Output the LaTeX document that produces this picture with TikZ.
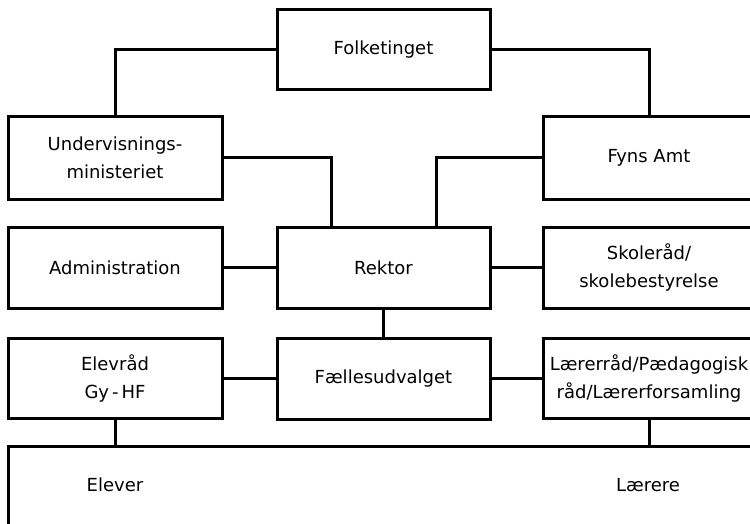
\documentclass[tikz,border=0pt]{standalone}
\usepackage{fontspec}
\setmainfont{DejaVu Sans}
\begin{document}
\begin{tikzpicture}[x=1pt,y=-1pt,
  box/.style={draw,line width=3pt,inner sep=0pt,align=center,
    font=\fontsize{18}{28}\selectfont},
  lbl/.style={inner sep=0pt,font=\fontsize{18}{28}\selectfont},
  conn/.style={line width=3pt}]
\useasboundingbox (0,0) rectangle (750,524);
\clip (0,0) rectangle (750,524);
% boxes: center = ((l+r)/2,(t+b)/2)
\node[box,minimum width=213pt,minimum height=80pt] (folk) at (383.5,50) {Folketinget};
\node[box,minimum width=214pt,minimum height=82pt] (underv) at (115,158) {Undervisnings-\\ministeriet};
\node[box,minimum width=212pt,minimum height=82pt] (fyns) at (649,158) {Fyns Amt};
\node[box,minimum width=214pt,minimum height=81pt] (admin) at (115,267.5) {Administration};
\node[box,minimum width=213pt,minimum height=81pt] (rektor) at (383.5,267.5) {Rektor};
\node[box,minimum width=212pt,minimum height=81pt] (skole) at (649,267.5) {Skoleråd/\\skolebestyrelse};
\node[box,minimum width=214pt,minimum height=80pt] (elevraad) at (115,378) {Elevråd\\Gy\,-\,HF};
\node[box,minimum width=213pt,minimum height=81pt] (faelles) at (383.5,378.5) {Fællesudvalget};
\node[box,minimum width=212pt,minimum height=80pt] (laerer) at (649,378) {Lærerråd/Pædagogisk\\råd/Lærerforsamling};
\node[box,minimum width=760pt,minimum height=120pt] (big) at (388,506) {};
\node[lbl] (elever) at (115,485) {Elever};
\node[lbl] (laerere) at (648,485) {Lærere};
% connectors
\draw[conn] (folk.west) -| (underv.north);
\draw[conn] (folk.east) -| (fyns.north);
\draw[conn] (underv.east) -| (rektor.north -| 331,0);
\draw[conn] (fyns.west) -| (rektor.north -| 436,0);
\draw[conn] (admin.east) -- (rektor.west);
\draw[conn] (rektor.east) -- (skole.west);
\draw[conn] (rektor.south) -- (faelles.north);
\draw[conn] (elevraad.east) -- (elevraad.east -| faelles.west);
\draw[conn] (faelles.east) -- (faelles.east -| laerer.west);
\draw[conn] (elevraad.south) -- (elevraad.south |- big.north);
\draw[conn] (laerer.south) -- (laerer.south |- big.north);
\end{tikzpicture}
\end{document}
